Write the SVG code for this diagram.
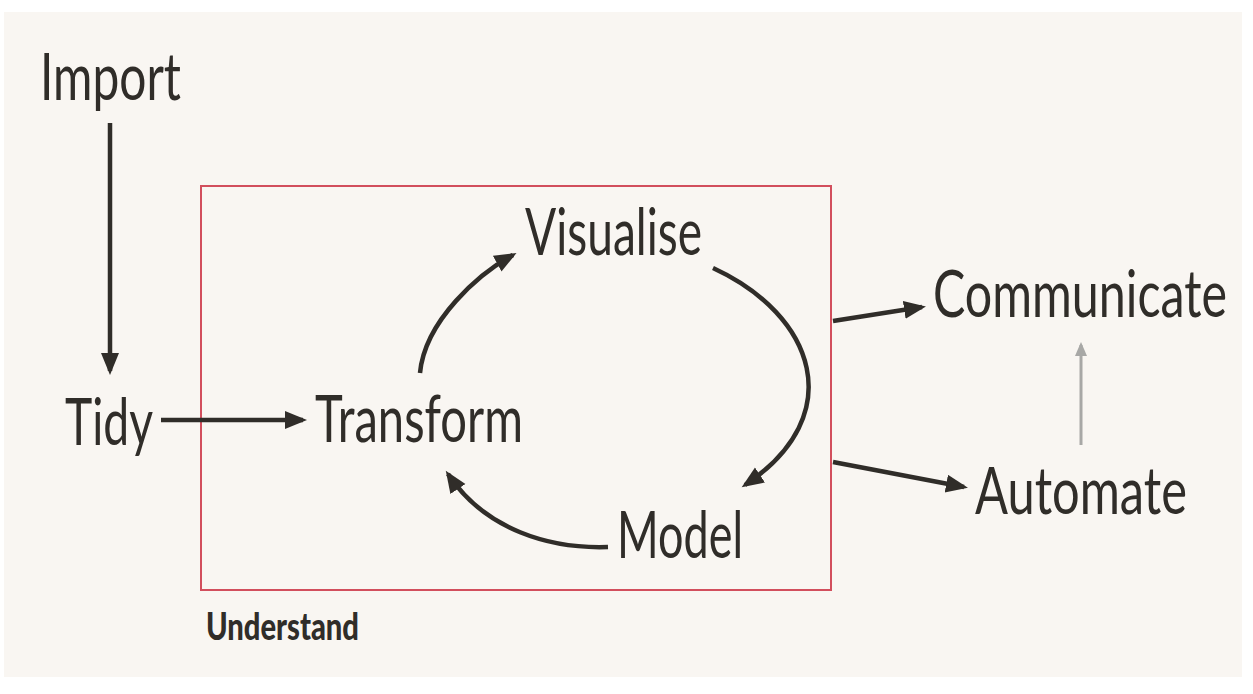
<svg xmlns="http://www.w3.org/2000/svg" width="1253" height="694" viewBox="0 0 1253 694">
<style>
.lbl{font-family:Lato,"Open Sans","Liberation Sans",sans-serif;font-size:66px;fill:#302d29}
.bold{font-family:Lato,"Liberation Sans",sans-serif;font-weight:900;font-size:37px;fill:#302d29}
.arr{fill:none;stroke:#302d29;stroke-width:4.5}
.gray{fill:none;stroke:#a8a8a6;stroke-width:3}
</style>
<defs>
<marker id="ah" markerUnits="userSpaceOnUse" markerWidth="24" markerHeight="20" refX="18" refY="9" orient="auto">
<path d="M0,0 L22,9 L0,18 Z" fill="#302d29"/>
</marker>
<marker id="ahg" markerUnits="userSpaceOnUse" markerWidth="16" markerHeight="14" refX="11" refY="6" orient="auto">
<path d="M0,0 L14,6 L0,12 Z" fill="#a8a8a6"/>
</marker>
</defs>
<rect x="0" y="0" width="1253" height="694" fill="#ffffff"/>
<rect x="4" y="12" width="1238" height="665" fill="#f9f6f2"/>
<g id="understand">
<rect x="201" y="186" width="630" height="404" fill="none" stroke="#d24f5d" stroke-width="2"/>
<text class="bold" x="206" y="640" textLength="153" lengthAdjust="spacingAndGlyphs">Understand</text>
</g>
<g id="import"><text class="lbl" x="40" y="100" textLength="141" lengthAdjust="spacingAndGlyphs">Import</text></g>
<g id="tidy"><text class="lbl" x="65" y="445" textLength="88" lengthAdjust="spacingAndGlyphs">Tidy</text></g>
<g id="transform"><text class="lbl" x="315" y="442" textLength="208" lengthAdjust="spacingAndGlyphs">Transform</text></g>
<g id="visualise"><text class="lbl" x="525" y="255" textLength="177" lengthAdjust="spacingAndGlyphs">Visualise</text></g>
<g id="model"><text class="lbl" x="617" y="558" textLength="126" lengthAdjust="spacingAndGlyphs">Model</text></g>
<g id="communicate"><text class="lbl" transform="translate(933,317) scale(0.75,1)" x="0" y="0" textLength="392" lengthAdjust="spacingAndGlyphs">Communicate</text></g>
<g id="automate"><text class="lbl" transform="translate(975,514) scale(0.82,1)" x="0" y="0" textLength="258.5" lengthAdjust="spacingAndGlyphs">Automate</text></g>
<g id="connectors">
<path class="arr" d="M110,123 L110,371" marker-end="url(#ah)"/>
<path class="arr" d="M161,420 L303,420" marker-end="url(#ah)"/>
<path class="arr" d="M420,373 C425,320 480,273 513,255" marker-end="url(#ah)"/>
<path class="arr" d="M713,268 C815,315 850,415 745,485" marker-end="url(#ah)"/>
<path class="arr" d="M608,547 C550,549 485,530 448,474" marker-end="url(#ah)"/>
<path class="arr" d="M833,321 L922,307" marker-end="url(#ah)"/>
<path class="arr" d="M833,462 L964,487" marker-end="url(#ah)"/>
<path class="gray" d="M1081,445 L1081,345" marker-end="url(#ahg)"/>
</g>
</svg>
